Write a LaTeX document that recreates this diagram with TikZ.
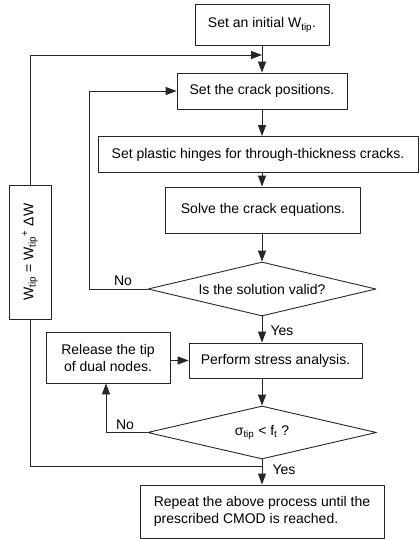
\documentclass[tikz,border=0pt]{standalone}
\usepackage{fontspec}
\setmainfont{Liberation Sans}
\usepackage{tikz}
\usetikzlibrary{arrows.meta}
\usetikzlibrary{shapes.geometric}
\definecolor{linegray}{rgb}{0.15,0.15,0.15}

\begin{document}
\begin{tikzpicture}[line cap=round,line join=round,x=1pt,y=-1pt,
  font=\fontsize{14}{17}\selectfont,
  procbox/.style={draw=linegray, line width=0.9pt, inner sep=0pt, align=center},
  testbox/.style={diamond, draw=linegray, line width=0.9pt, inner sep=0pt, shape aspect=4.2},
  flow/.style={draw=linegray, line width=0.9pt, -{Triangle[length=11pt, width=8pt]}},
  link/.style={draw=linegray, line width=0.9pt}]
\useasboundingbox (0,0) rectangle (419,539);
\node[procbox, minimum width=134pt, minimum height=41pt] (init) at (262,25) {Set an initial W\textsubscript{tip}.};
\node[procbox, minimum width=170pt, minimum height=36pt] (crack) at (262,91) {Set the crack positions.};
\node[procbox, minimum width=320pt, minimum height=36pt] (hinge) at (258,154.5) {Set plastic hinges for through-thickness cracks.};
\node[procbox, minimum width=195pt, minimum height=46pt] (solve) at (263,210) {Solve the crack equations.};
\node[testbox, minimum width=228pt, minimum height=54pt] (valid) at (262,289) {Is the solution valid?};
\node[procbox, minimum width=124pt, minimum height=51pt] (release) at (108,357.5) {Release the tip\\of dual nodes.};
\node[procbox, minimum width=173pt, minimum height=35pt] (stress) at (275.5,360.5) {Perform stress analysis.};
\node[testbox, minimum width=229pt, minimum height=53pt] (check) at (262,432.5) {σ\textsubscript{tip} < f\textsubscript{t} ?};
\node[procbox, minimum width=244pt, minimum height=53pt, align=left] (final) at (262,511.5) {Repeat the above process until the\\prescribed CMOD is reached.};
% rotated box: east is the top, west the bottom
\node[procbox, rotate=90, minimum width=134pt, minimum height=42pt] (incr) at (30,252) {W\textsubscript{tip} = W\textsubscript{tip}\textsuperscript{+} ΔW};
\coordinate (jtop) at (262,55);
\coordinate (jbot) at (262,466);
% main flow
\draw[flow] (init) -- (crack);
\draw[flow] (crack.south) -- (crack.south |- hinge.north);
\draw[flow] (hinge.south -| crack.south) -- (solve.north -| crack.south);
\draw[flow] (solve.south -| valid.north) -- (valid.north);
\draw[flow] (valid.south) -- (valid.south |- stress.north);
\draw[flow] (check.north |- stress.south) -- (check.north);
\draw[flow] (check.south) -- (final.north);
% loops
\draw[flow] (valid.west) -- ++(-58,0) |- (crack.west);
\draw[flow] (check.west) -| ([xshift=-2pt]release.south);
\draw[flow] (release.east |- stress.west) -- (stress.west);
\draw[flow] (incr.east) |- (jtop);
\draw[link] (incr.west) |- (jbot);
% labels
\node (no1) at (123,281) {No};
\node (yes1) at (282,331) {Yes};
\node (no2) at (125,425) {No};
\node (yes2) at (284,470) {Yes};
\end{tikzpicture}
\end{document}
